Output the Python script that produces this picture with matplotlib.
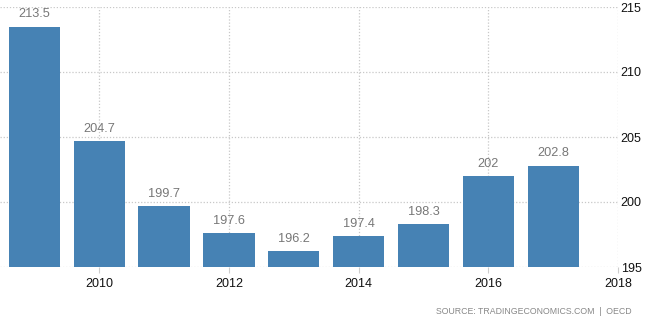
import matplotlib
matplotlib.use("Agg")
import matplotlib.pyplot as plt

years = [2009, 2010, 2011, 2012, 2013, 2014, 2015, 2016, 2017]
values = [213.5, 204.7, 199.7, 197.6, 196.2, 197.4, 198.3, 202, 202.8]
value_labels = ["213.5", "204.7", "199.7", "197.6", "196.2", "197.4", "198.3", "202", "202.8"]
x_ticks = [2010, 2012, 2014, 2016, 2018]
y_ticks = [195, 200, 205, 210, 215]
source_text = "SOURCE: TRADINGECONOMICS.COM  |  OECD"

plt.rcParams['font.family'] = ['Liberation Sans', 'DejaVu Sans']

fig = plt.figure(figsize=(6.49, 3.24), dpi=100)
ax = fig.add_axes([0.0, 1 - 267 / 324, 618 / 649, 260 / 324])

bar_color = "#4682b4"
ax.bar(years, [v - 195 for v in values], bottom=195, width=0.79,
       color=bar_color, zorder=3)

for x, v, lab in zip(years, values, value_labels):
    ax.annotate(lab, (x, v), xytext=(0, 4.5), textcoords="offset points",
                ha="center", va="bottom", fontsize=9.2, color="#777777")

ax.set_xlim(2008.47, 2018)
ax.set_ylim(195, 215)
ax.set_xticks(x_ticks)
ax.set_yticks(y_ticks)
ax.set_xticklabels([str(t) for t in x_ticks])

ax.yaxis.tick_right()
ax.tick_params(axis="y", length=0, pad=2, labelsize=9, labelcolor="#111111")
ax.tick_params(axis="x", length=4, color="#cccccc", pad=4, labelsize=9,
               labelcolor="#111111")

ax.grid(True, linestyle=(0, (1, 1.5)), color="#c8c8c8", linewidth=0.9, zorder=0)
for s in ax.spines.values():
    s.set_visible(False)

fig.text(632 / 649, 1 - 312 / 324, source_text, ha="right", va="center",
         fontsize=6.3, color="#888888")

fig.savefig("out.png", dpi=100)
